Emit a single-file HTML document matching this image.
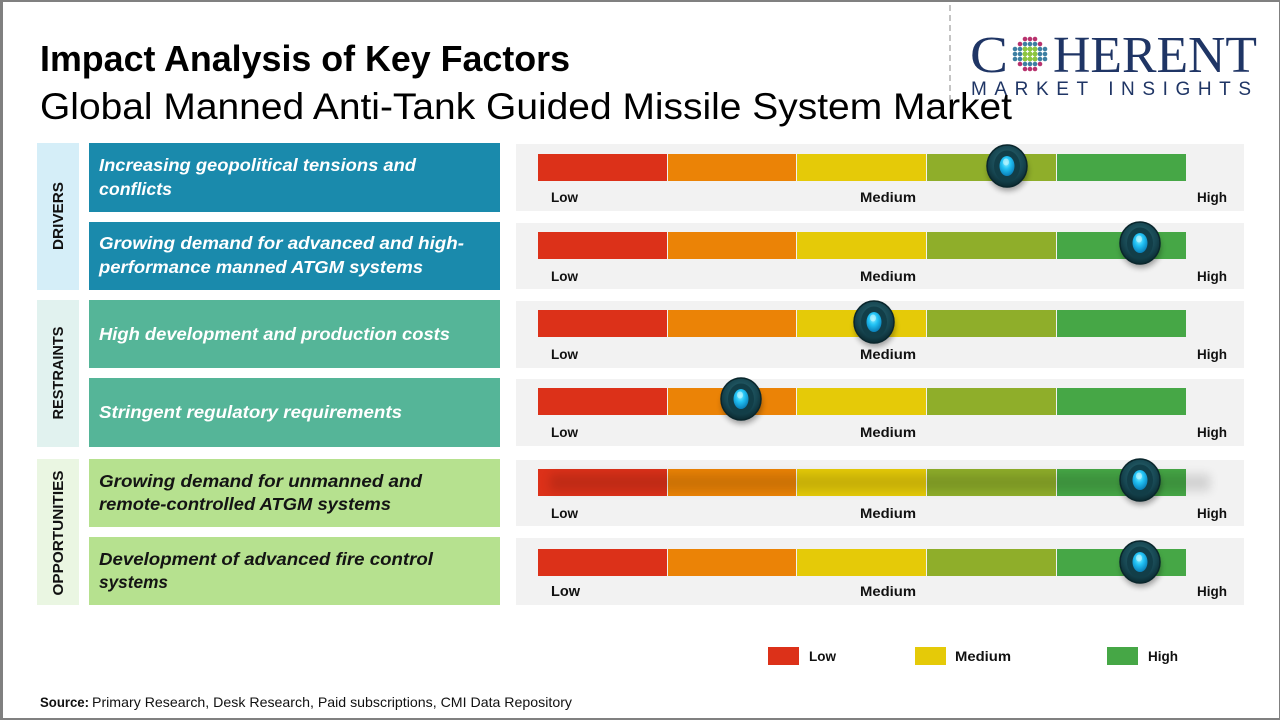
<!DOCTYPE html>
<html><head><meta charset="utf-8"><style>
html,body{margin:0;padding:0;background:#fff;}
svg{display:block;}
text{font-family:"Liberation Sans",sans-serif;}
text.serif{font-family:"Liberation Serif",serif;}
</style></head><body>
<svg width="1280" height="720" viewBox="0 0 1280 720" xmlns="http://www.w3.org/2000/svg">
<defs>
<radialGradient id="kO" cx="50%" cy="40%" r="60%">
<stop offset="0" stop-color="#2f6f7a"/><stop offset="0.7" stop-color="#164550"/><stop offset="1" stop-color="#0b2a31"/>
</radialGradient>
<radialGradient id="kC" cx="45%" cy="35%" r="65%">
<stop offset="0" stop-color="#8ff0ff"/><stop offset="0.45" stop-color="#22c3f5"/><stop offset="1" stop-color="#0a7fb8"/>
</radialGradient>
<filter id="bl" x="-50%" y="-50%" width="200%" height="200%"><feGaussianBlur stdDeviation="3"/></filter>
<filter id="bl2" x="-20%" y="-100%" width="140%" height="300%"><feGaussianBlur stdDeviation="5"/></filter>
<g id="bar">
<rect x="538" y="0" width="129" height="27" fill="#dc3119"/>
<rect x="668" y="0" width="128" height="27" fill="#eb8306"/>
<rect x="797" y="0" width="129" height="27" fill="#e5ca08"/>
<rect x="927" y="0" width="129" height="27" fill="#8fae2a"/>
<rect x="1057" y="0" width="129" height="27" fill="#46a746"/>
</g>
<g id="knob">
<ellipse cx="1" cy="5" rx="20" ry="20" fill="#000" opacity="0.35" filter="url(#bl)"/>
<ellipse cx="0" cy="0" rx="20" ry="21" fill="url(#kO)"/>
<ellipse cx="0" cy="0" rx="20" ry="21" fill="none" stroke="#0a262c" stroke-width="1.5"/>
<ellipse cx="0" cy="0" rx="13" ry="15.5" fill="#123e48"/>
<ellipse cx="0" cy="0" rx="7.5" ry="10" fill="url(#kC)"/>
<ellipse cx="-1" cy="-4" rx="3" ry="3.5" fill="#c8f8ff" opacity="0.6"/>
</g>
</defs>

<rect x="0" y="0" width="1280" height="720" fill="#fff"/>
<rect x="0" y="0" width="3" height="720" fill="#808080"/>
<rect x="0" y="0" width="1280" height="2" fill="#808080"/>
<rect x="1279" y="0" width="1" height="720" fill="#808080"/>
<rect x="0" y="718" width="1280" height="2" fill="#808080"/>

<!-- titles -->
<text x="40" y="71" font-size="36" font-weight="bold" fill="#000" textLength="530" lengthAdjust="spacingAndGlyphs">Impact Analysis of Key Factors</text>
<text x="40" y="119" font-size="37" fill="#000" textLength="972" lengthAdjust="spacingAndGlyphs">Global Manned Anti-Tank Guided Missile System Market</text>

<!-- logo -->
<line x1="950" y1="5" x2="950" y2="100" stroke="#b0b0b0" stroke-width="1.5" stroke-dasharray="6,4"/>
<text class="serif" x="970" y="72" font-size="52" fill="#1f3565" textLength="38" lengthAdjust="spacingAndGlyphs">C</text>
<text class="serif" x="1053" y="72" font-size="52" fill="#1f3565" textLength="204" lengthAdjust="spacingAndGlyphs">HERENT</text>
<text x="971" y="95" font-size="19" fill="#1f3565" textLength="280" lengthAdjust="spacing">MARKET INSIGHTS</text>
<g transform="translate(1030,54)">
<g fill="#b8336e">
<circle cx="-5" cy="-15" r="2.3"/><circle cx="0" cy="-15" r="2.3"/><circle cx="5" cy="-15" r="2.3"/>
<circle cx="-5" cy="15" r="2.3"/><circle cx="0" cy="15" r="2.3"/><circle cx="5" cy="15" r="2.3"/>
<circle cx="-10" cy="-10" r="2.3"/><circle cx="10" cy="-10" r="2.3"/><circle cx="-10" cy="10" r="2.3"/><circle cx="10" cy="10" r="2.3"/>
</g>
<g fill="#3d7fa2">
<circle cx="-15" cy="-5" r="2.3"/><circle cx="-15" cy="0" r="2.3"/><circle cx="-15" cy="5" r="2.3"/>
<circle cx="15" cy="-5" r="2.3"/><circle cx="15" cy="0" r="2.3"/><circle cx="15" cy="5" r="2.3"/>
<circle cx="-5" cy="-10" r="2.3"/><circle cx="0" cy="-10" r="2.3"/><circle cx="5" cy="-10" r="2.3"/>
<circle cx="-5" cy="10" r="2.3"/><circle cx="0" cy="10" r="2.3"/><circle cx="5" cy="10" r="2.3"/>
<circle cx="-10" cy="-5" r="2.3"/><circle cx="-10" cy="0" r="2.3"/><circle cx="-10" cy="5" r="2.3"/>
<circle cx="10" cy="-5" r="2.3"/><circle cx="10" cy="0" r="2.3"/><circle cx="10" cy="5" r="2.3"/>
</g>
<g fill="#8cc540">
<circle cx="-5" cy="-5" r="2.5"/><circle cx="0" cy="-5" r="2.5"/><circle cx="5" cy="-5" r="2.5"/>
<circle cx="-5" cy="0" r="2.5"/><circle cx="0" cy="0" r="2.5"/><circle cx="5" cy="0" r="2.5"/>
<circle cx="-5" cy="5" r="2.5"/><circle cx="0" cy="5" r="2.5"/><circle cx="5" cy="5" r="2.5"/>
</g>
</g>

<!-- category columns -->
<rect x="37" y="143" width="42" height="147" fill="#d5eef8"/>
<rect x="37" y="300" width="42" height="147" fill="#e1f2ef"/>
<rect x="37" y="459" width="42" height="146" fill="#eaf6e2"/>
<text transform="translate(63,216) rotate(-90)" text-anchor="middle" font-size="15" font-weight="bold" fill="#111" textLength="68" lengthAdjust="spacingAndGlyphs">DRIVERS</text>
<text transform="translate(63,373) rotate(-90)" text-anchor="middle" font-size="15" font-weight="bold" fill="#111" textLength="93" lengthAdjust="spacingAndGlyphs">RESTRAINTS</text>
<text transform="translate(63,533) rotate(-90)" text-anchor="middle" font-size="15" font-weight="bold" fill="#111" textLength="125" lengthAdjust="spacingAndGlyphs">OPPORTUNITIES</text>

<!-- factor boxes -->
<rect x="89" y="143" width="411" height="69" fill="#1a8aac"/>
<rect x="89" y="222" width="411" height="68" fill="#1a8aac"/>
<rect x="89" y="300" width="411" height="68" fill="#55b598"/>
<rect x="89" y="378" width="411" height="69" fill="#55b598"/>
<rect x="89" y="459" width="411" height="68" fill="#b6e18f"/>
<rect x="89" y="537" width="411" height="68" fill="#b6e18f"/>

<g font-size="17.5" font-weight="bold" font-style="italic" fill="#fff">
<text x="99" y="171" textLength="317" lengthAdjust="spacingAndGlyphs">Increasing geopolitical tensions and</text>
<text x="99" y="195" textLength="73" lengthAdjust="spacingAndGlyphs">conflicts</text>
<text x="99" y="249" textLength="365" lengthAdjust="spacingAndGlyphs">Growing demand for advanced and high-</text>
<text x="99" y="273" textLength="324" lengthAdjust="spacingAndGlyphs">performance manned ATGM systems</text>
<text x="99" y="340" textLength="351" lengthAdjust="spacingAndGlyphs">High development and production costs</text>
<text x="99" y="418" textLength="303" lengthAdjust="spacingAndGlyphs">Stringent regulatory requirements</text>
</g>
<g font-size="17.5" font-weight="bold" font-style="italic" fill="#141414">
<text x="99" y="487" textLength="323" lengthAdjust="spacingAndGlyphs">Growing demand for unmanned and</text>
<text x="99" y="510" textLength="292" lengthAdjust="spacingAndGlyphs">remote-controlled ATGM systems</text>
<text x="99" y="565" textLength="334" lengthAdjust="spacingAndGlyphs">Development of advanced fire control</text>
<text x="99" y="588" textLength="69" lengthAdjust="spacingAndGlyphs">systems</text>
</g>

<!-- gauge panels -->
<g fill="#f2f2f2">
<rect x="516" y="144" width="728" height="67"/>
<rect x="516" y="223" width="728" height="66"/>
<rect x="516" y="301" width="728" height="67"/>
<rect x="516" y="379" width="728" height="67"/>
<rect x="516" y="460" width="728" height="66"/>
<rect x="516" y="538" width="728" height="67"/>
</g>

<use href="#bar" y="154"/>
<use href="#bar" y="232"/>
<use href="#bar" y="310"/>
<use href="#bar" y="388"/>
<use href="#bar" y="469"/>
<rect x="550" y="474" width="660" height="17" fill="#000" opacity="0.13" filter="url(#bl2)"/>
<use href="#bar" y="549"/>

<g font-size="14" font-weight="bold" fill="#111">
<text x="551" y="202" textLength="27" lengthAdjust="spacingAndGlyphs">Low</text>
<text x="860" y="202" textLength="56" lengthAdjust="spacingAndGlyphs">Medium</text>
<text x="1197" y="202" textLength="30" lengthAdjust="spacingAndGlyphs">High</text>
<text x="551" y="281" textLength="27" lengthAdjust="spacingAndGlyphs">Low</text>
<text x="860" y="281" textLength="56" lengthAdjust="spacingAndGlyphs">Medium</text>
<text x="1197" y="281" textLength="30" lengthAdjust="spacingAndGlyphs">High</text>
<text x="551" y="359" textLength="27" lengthAdjust="spacingAndGlyphs">Low</text>
<text x="860" y="359" textLength="56" lengthAdjust="spacingAndGlyphs">Medium</text>
<text x="1197" y="359" textLength="30" lengthAdjust="spacingAndGlyphs">High</text>
<text x="551" y="437" textLength="27" lengthAdjust="spacingAndGlyphs">Low</text>
<text x="860" y="437" textLength="56" lengthAdjust="spacingAndGlyphs">Medium</text>
<text x="1197" y="437" textLength="30" lengthAdjust="spacingAndGlyphs">High</text>
<text x="551" y="518" textLength="27" lengthAdjust="spacingAndGlyphs">Low</text>
<text x="860" y="518" textLength="56" lengthAdjust="spacingAndGlyphs">Medium</text>
<text x="1197" y="518" textLength="30" lengthAdjust="spacingAndGlyphs">High</text>
<text x="551" y="596" font-size="15" textLength="29" lengthAdjust="spacingAndGlyphs">Low</text>
<text x="860" y="596" textLength="56" lengthAdjust="spacingAndGlyphs">Medium</text>
<text x="1197" y="596" textLength="30" lengthAdjust="spacingAndGlyphs">High</text>
</g>

<!-- knobs -->
<use href="#knob" x="1007" y="166"/>
<use href="#knob" x="1140" y="243"/>
<use href="#knob" x="874" y="322"/>
<use href="#knob" x="741" y="399"/>
<use href="#knob" x="1140" y="480"/>
<use href="#knob" x="1140" y="562"/>

<!-- legend -->
<rect x="768" y="647" width="31" height="18" fill="#dc3119"/>
<rect x="915" y="647" width="31" height="18" fill="#e5ca08"/>
<rect x="1107" y="647" width="31" height="18" fill="#46a746"/>
<g font-size="14" font-weight="bold" fill="#111">
<text x="809" y="661" textLength="27" lengthAdjust="spacingAndGlyphs">Low</text>
<text x="955" y="661" textLength="56" lengthAdjust="spacingAndGlyphs">Medium</text>
<text x="1148" y="661" textLength="30" lengthAdjust="spacingAndGlyphs">High</text>
</g>

<!-- source -->
<text x="40" y="707" font-size="14" font-weight="bold" fill="#111" textLength="49" lengthAdjust="spacingAndGlyphs">Source:</text>
<text x="92" y="707" font-size="14" fill="#111" textLength="480" lengthAdjust="spacingAndGlyphs">Primary Research, Desk Research, Paid subscriptions, CMI Data Repository</text>
</svg>
</body></html>
